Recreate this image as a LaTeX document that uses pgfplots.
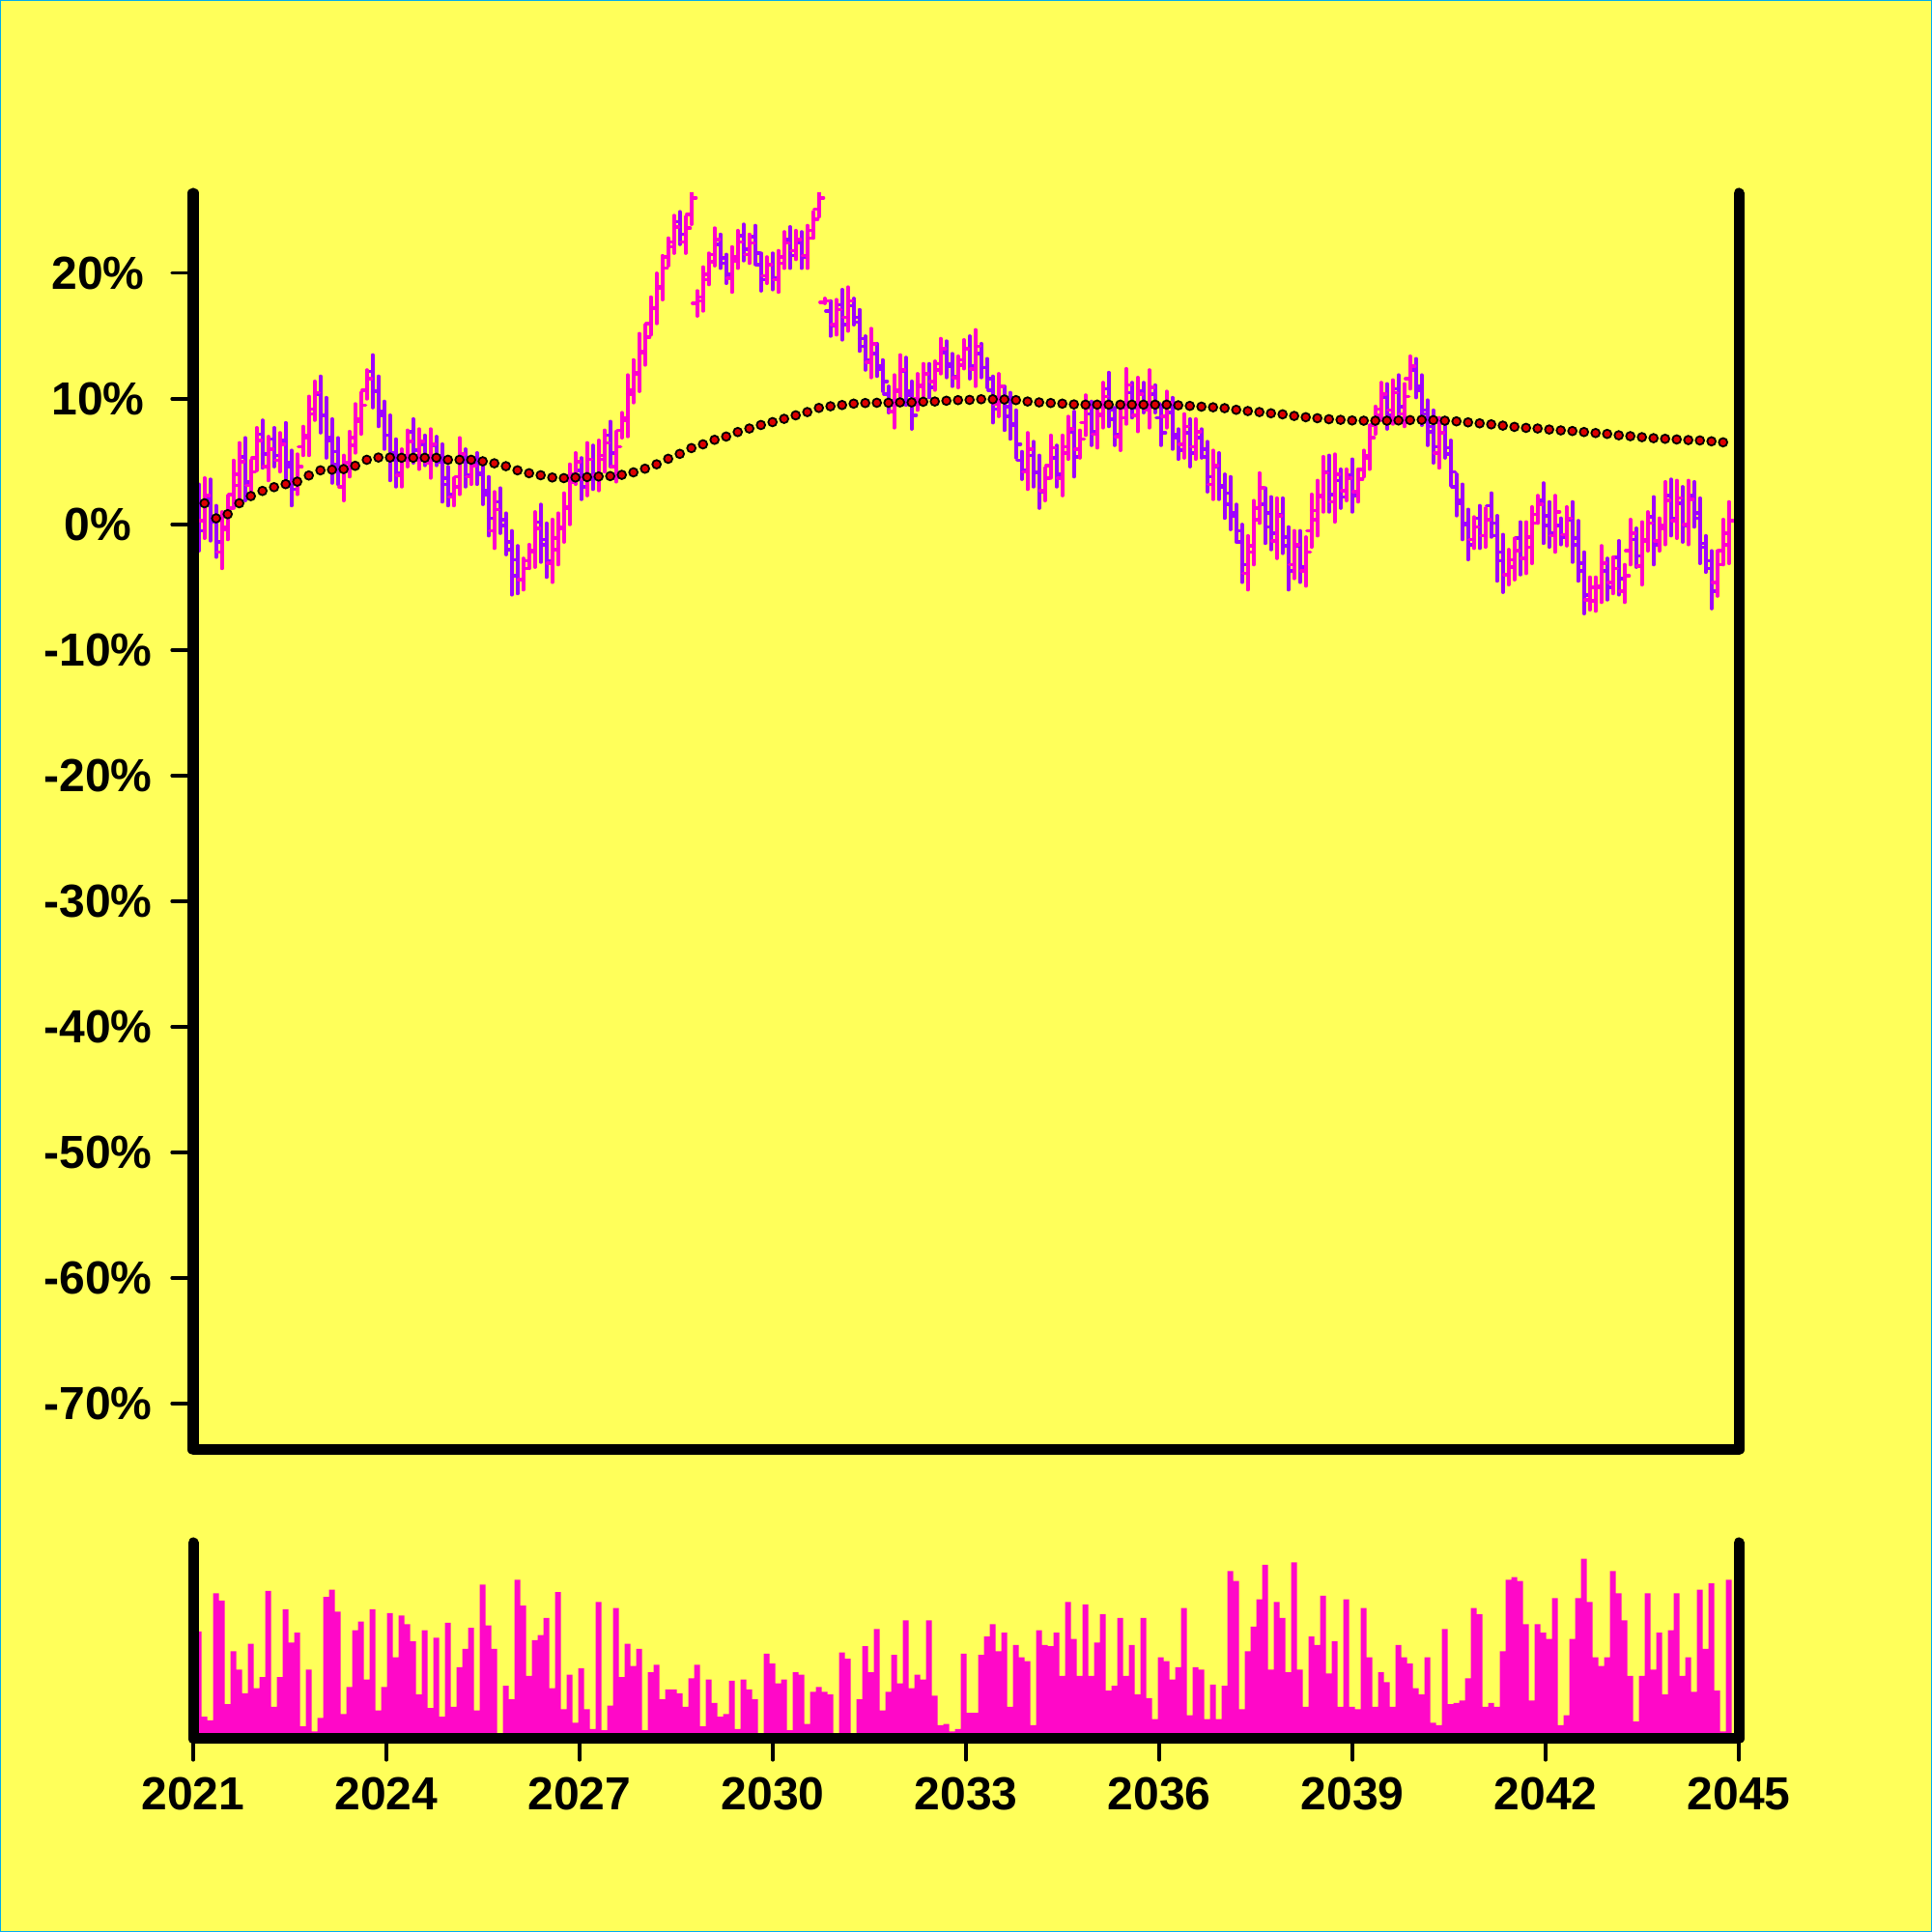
\documentclass[border=0pt]{standalone}
\usepackage{pgfplots}
\pgfplotsset{compat=1.18}
\usepackage{pgfplotstable}
\usepackage{fontspec}
\setmainfont{Liberation Sans}

\definecolor{bgy}{RGB}{255,255,90}
\definecolor{upc}{RGB}{255,0,204}
\definecolor{dnc}{RGB}{160,0,255}
\definecolor{mac}{RGB}{220,0,0}
\definecolor{volc}{RGB}{255,8,200}

% open tick to the left, close tick to the right
\pgfdeclareplotmark{otick}{\pgfpathmoveto{\pgfqpoint{-\pgfplotmarksize}{0pt}}\pgfpathlineto{\pgfqpoint{0pt}{0pt}}\pgfusepathqstroke}
\pgfdeclareplotmark{ctick}{\pgfpathmoveto{\pgfqpoint{0pt}{0pt}}\pgfpathlineto{\pgfqpoint{\pgfplotmarksize}{0pt}}\pgfusepathqstroke}

\pgfplotsset{
  hl/.style={draw=none, mark=none, forget plot,
    error bars/y dir=plus, error bars/y explicit, error bars/error mark=none,
    error bars/error bar style={draw=#1, solid, line width=0.9pt, line cap=round}},
  oc/.style={only marks, forget plot, color=#1, mark size=1.2pt,
    mark options={solid, line width=0.9pt, line cap=round}},
  lbl/.style={font=\bfseries\fontsize{12}{14}\selectfont, inner sep=0pt},
}

% rising bars: k open high low close (percent)
\pgfplotstableread{
k o h l c
1 0.3 3.7 -1.1 2.3
4 -2.2 1.0 -3.5 -0.4
5 -0.2 2.3 -1.2 1.3
6 2.4 5.1 1.3 4.0
7 3.1 6.5 1.6 5.0
9 3.1 5.1 2.2 4.2
10 5.3 7.7 4.3 6.7
12 4.6 7.0 3.5 6.0
14 5.1 7.3 4.2 6.4
17 3.4 5.6 2.4 4.6
18 6.2 7.8 5.5 7.1
19 6.9 10.2 5.5 8.8
20 9.2 11.4 8.3 10.5
25 3.0 5.5 1.9 4.4
26 4.9 7.4 3.8 6.3
27 6.9 9.6 5.7 8.4
28 8.2 10.5 7.2 9.5
29 10.7 12.3 10.0 11.6
35 3.9 6.0 3.0 5.1
36 5.5 7.5 4.6 6.6
38 5.4 7.6 4.4 6.6
40 4.9 7.6 3.7 6.4
44 2.2 3.7 1.5 3.0
45 3.8 6.9 2.4 5.6
47 3.8 5.3 3.2 4.7
51 -0.5 2.6 -1.9 1.2
56 -4.4 -2.7 -5.2 -3.5
57 -2.9 -1.6 -3.5 -2.2
58 -2.1 1.0 -3.4 -0.3
61 -3.1 0.4 -4.6 -1.1
62 -2.0 0.9 -3.2 -0.3
63 -0.2 2.5 -1.4 1.3
64 1.4 4.8 0.0 3.4
65 4.0 5.7 3.2 5.0
67 3.6 6.5 2.3 5.2
69 3.9 6.7 2.7 5.5
70 5.2 7.5 4.2 6.5
72 4.6 7.4 3.4 6.2
73 7.5 8.9 6.9 8.3
74 8.5 11.9 7.0 10.4
75 10.7 13.1 9.7 12.1
76 12.0 15.2 10.6 13.8
77 13.7 15.9 12.7 14.9
78 16.0 18.1 15.1 17.2
79 17.2 20.0 16.0 18.8
80 18.9 21.4 17.9 20.4
81 21.3 22.8 20.6 22.1
82 22.5 24.6 21.6 23.7
84 22.5 24.5 21.6 23.6
85 24.7 26.5 23.9 26.0
86 17.6 18.6 16.6 17.8
87 18.1 20.5 17.0 19.5
88 19.9 21.6 19.1 20.9
89 21.5 23.6 20.6 22.7
92 19.6 22.1 18.5 21.0
93 21.3 23.4 20.4 22.5
95 21.5 23.1 20.8 22.4
98 19.8 21.3 19.2 20.7
100 19.5 21.8 18.5 20.8
101 21.3 23.3 20.4 22.4
103 21.8 23.4 21.1 22.7
105 21.4 23.8 20.4 22.8
106 23.4 24.9 22.8 24.3
107 25.1 26.5 24.5 26.0
108 17.7 18.0 17.6 17.8
110 15.9 17.9 15.1 17.1
112 16.5 18.9 15.4 17.8
116 12.9 15.6 11.7 14.4
120 9.0 11.9 7.7 10.6
121 10.7 13.5 9.5 12.3
124 10.0 12.0 9.1 11.1
125 11.0 12.8 10.2 12.0
127 11.4 13.0 10.7 12.3
128 12.8 14.8 12.0 14.0
131 11.7 13.4 10.9 12.7
132 13.1 14.7 12.4 14.0
134 12.4 15.5 11.0 14.2
138 9.6 12.0 8.6 11.0
143 4.2 7.3 2.8 6.0
146 2.7 4.5 1.9 3.7
147 4.7 7.1 3.7 6.1
149 3.7 7.1 2.3 5.7
150 6.2 8.6 5.2 7.6
152 6.0 7.5 5.3 6.8
153 8.1 10.3 7.1 9.3
155 7.2 9.8 6.1 8.7
156 8.8 11.3 7.7 10.2
159 7.0 9.6 5.9 8.5
160 9.3 12.4 8.0 11.1
162 8.7 11.7 7.4 10.4
164 9.1 12.3 7.7 10.9
167 8.6 10.6 7.7 9.7
170 6.4 8.8 5.3 7.8
172 6.2 8.4 5.2 7.4
175 3.2 5.9 2.0 4.7
181 -3.9 -0.9 -5.2 -2.2
182 -1.7 1.9 -3.2 0.4
183 1.3 4.1 0.1 2.9
186 -1.3 2.1 -2.7 0.7
189 -3.2 -0.5 -4.3 -1.6
191 -3.7 -1.0 -4.9 -2.2
192 -0.5 2.4 -1.8 1.1
193 0.4 3.5 -0.9 2.2
194 2.3 5.4 1.0 4.1
196 1.8 5.6 0.2 4.0
198 2.7 4.4 1.9 3.7
200 2.6 4.4 1.8 3.6
201 4.4 5.9 3.8 5.3
202 5.5 7.9 4.4 6.9
203 7.9 9.4 7.2 8.7
204 9.2 11.3 8.3 10.4
206 9.1 11.5 8.0 10.5
208 8.8 11.2 7.8 10.2
209 11.6 13.4 10.8 12.6
214 5.7 8.5 4.5 7.3
220 -1.2 0.6 -1.9 -0.2
222 -0.9 1.3 -1.8 0.4
226 -4.0 -2.0 -4.8 -2.8
227 -3.4 -1.1 -4.4 -2.1
229 -2.7 0.2 -3.9 -1.0
230 -1.8 1.4 -3.1 0.1
231 0.8 2.3 0.1 1.6
234 -0.9 2.3 -2.2 1.0
236 -0.8 1.4 -1.7 0.5
240 -6.0 -4.2 -6.8 -5.0
241 -6.1 -4.2 -6.9 -5.0
242 -4.9 -1.7 -6.2 -3.1
244 -4.6 -2.6 -5.5 -3.5
246 -5.3 -3.2 -6.2 -4.1
247 -2.1 0.4 -3.2 -0.7
249 -3.3 0.2 -4.8 -1.3
250 -1.2 1.0 -2.1 0.1
252 -1.3 0.5 -2.1 -0.3
253 -0.1 3.4 -1.6 1.9
255 0.3 3.5 -1.1 2.1
257 0.0 3.5 -1.6 2.0
262 -4.6 -2.1 -5.7 -3.2
263 -2.1 0.4 -3.2 -0.7
264 -1.6 1.8 -3.1 0.3
}\up

% falling bars
\pgfplotstableread{
k o h l c
0 1.6 3.2 -2.1 -0.5
2 2.1 3.6 -1.3 0.2
3 0.3 1.5 -2.6 -1.4
8 5.4 6.9 1.9 3.4
11 7.2 8.3 4.5 5.6
13 6.8 7.7 4.6 5.5
15 6.7 8.1 3.5 4.9
16 4.6 5.9 1.5 2.8
21 10.4 11.8 7.3 8.7
22 8.7 10.1 5.3 6.7
23 6.9 8.4 3.3 4.8
24 5.8 6.9 3.2 4.3
30 12.2 13.5 9.3 10.6
31 10.6 11.8 7.8 9.0
32 8.7 9.8 6.0 7.1
33 7.1 8.7 3.5 5.1
34 5.7 6.8 3.0 4.1
37 7.4 8.4 4.9 5.9
39 6.4 7.1 4.7 5.4
41 6.3 7.0 4.7 5.4
42 5.0 6.4 1.8 3.2
43 3.7 4.6 1.5 2.4
46 5.1 6.0 3.0 3.9
48 5.0 5.7 3.2 4.0
49 4.1 5.1 1.6 2.7
50 2.4 3.8 -0.9 0.5
52 1.8 2.9 -0.7 0.4
53 -0.1 0.9 -2.4 -1.4
54 -2.0 -0.5 -5.6 -4.1
55 -2.8 -1.7 -5.5 -4.4
59 0.2 1.6 -3.0 -1.6
60 -1.2 0.1 -4.2 -2.9
66 4.3 5.3 2.0 3.0
68 5.2 6.3 2.8 3.9
71 7.1 8.2 4.6 5.7
83 24.1 24.9 22.3 23.1
90 22.3 23.1 20.4 21.2
91 20.8 21.5 19.2 19.9
94 23.0 23.9 21.0 21.9
96 22.9 23.8 20.7 21.6
97 20.7 21.6 18.6 19.5
99 20.7 21.6 18.7 19.6
102 22.7 23.7 20.4 21.4
104 22.4 23.3 20.4 21.3
109 17.0 17.8 15.0 15.8
111 17.5 18.7 14.7 15.9
113 17.4 18.0 15.9 16.5
114 16.1 17.1 13.8 14.8
115 14.2 15.0 12.3 13.1
117 13.6 14.4 11.8 12.6
118 12.4 13.1 10.6 11.4
119 10.4 11.0 8.9 9.5
122 12.2 13.3 9.5 10.6
123 10.3 11.4 7.6 8.7
126 12.0 12.8 10.1 10.9
129 13.7 14.6 11.7 12.6
130 12.8 13.6 11.0 11.8
133 14.0 15.0 11.6 12.6
135 13.6 14.4 11.7 12.5
136 12.5 13.2 10.9 11.6
137 10.7 11.8 8.1 9.2
139 10.0 11.0 7.5 8.6
140 9.4 10.5 6.8 7.9
141 8.0 9.1 5.3 6.4
142 5.1 5.8 3.6 4.3
144 5.5 6.6 3.0 4.1
145 4.2 5.5 1.3 2.6
148 5.3 6.3 3.0 4.0
151 7.4 9.0 3.8 5.4
154 8.8 9.8 6.3 7.4
157 10.8 12.1 7.8 9.1
158 8.4 9.3 6.3 7.2
161 10.5 11.3 8.5 9.3
163 10.6 11.3 8.9 9.6
165 10.4 11.1 8.9 9.6
166 8.5 9.5 6.3 7.3
168 8.9 10.1 6.0 7.2
169 6.9 7.6 5.2 5.9
171 7.3 8.4 4.6 5.7
173 6.9 7.6 5.3 6.0
174 5.4 6.6 2.6 3.8
176 4.6 5.7 2.0 3.1
177 3.0 4.0 0.5 1.6
178 2.5 3.8 -0.4 0.9
179 0.7 1.6 -1.4 -0.5
180 -1.4 0.0 -4.6 -3.2
184 1.6 2.9 -1.5 -0.2
185 0.9 2.2 -2.0 -0.7
187 0.8 2.1 -2.3 -1.0
188 -1.7 -0.2 -5.2 -3.7
190 -1.7 -0.5 -4.6 -3.4
195 4.2 5.5 1.0 2.4
197 3.5 4.4 1.3 2.2
199 3.9 5.2 1.0 2.3
205 10.1 11.2 7.6 8.7
207 10.8 11.9 8.3 9.4
210 12.3 13.2 10.1 11.0
211 10.7 11.9 7.9 9.1
212 8.8 9.9 6.3 7.4
213 7.8 9.1 4.9 6.2
215 7.3 8.1 5.3 6.1
216 5.6 6.7 3.1 4.2
217 3.0 4.0 0.7 1.7
218 1.9 3.2 -1.2 0.1
219 0.0 1.2 -2.8 -1.6
221 0.5 1.5 -1.9 -0.9
223 1.5 2.5 -1.0 0.1
224 -0.9 0.7 -4.5 -2.9
225 -2.2 -0.8 -5.4 -4.0
228 -1.1 0.2 -4.0 -2.7
232 1.9 3.3 -1.5 -0.1
233 0.7 1.8 -1.8 -0.7
235 -0.1 0.5 -1.6 -1.0
237 0.4 1.8 -3.0 -1.6
238 -1.1 0.3 -4.5 -3.1
239 -3.7 -2.2 -7.1 -5.6
243 -3.7 -2.7 -6.0 -5.0
245 -2.6 -1.3 -5.6 -4.3
248 -1.2 -0.3 -3.4 -2.5
251 0.6 2.2 -3.2 -1.6
254 2.3 3.6 -0.9 0.5
256 1.7 3.0 -1.4 -0.1
258 2.3 3.4 -0.2 0.9
259 0.5 2.1 -3.1 -1.5
260 -1.8 -0.9 -3.8 -2.9
261 -3.5 -2.1 -6.7 -5.3
}\dn

% moving average, every second bar
\pgfplotstableread[row sep=\\]{
k v\\
1 1.69\\ 3 0.49\\ 5 0.82\\ 7 1.69\\ 9 2.26\\ 11 2.67\\ 13 2.97\\ 15 3.21\\ 17 3.41\\ 19 3.90\\
21 4.31\\ 23 4.36\\ 25 4.41\\ 27 4.67\\ 29 5.15\\ 31 5.33\\ 33 5.33\\ 35 5.31\\ 37 5.31\\ 39 5.31\\
41 5.31\\ 43 5.15\\ 45 5.15\\ 47 5.15\\ 49 5.03\\ 51 4.87\\ 53 4.64\\ 55 4.31\\ 57 4.08\\ 59 3.92\\
61 3.74\\ 63 3.69\\ 65 3.74\\ 67 3.77\\ 69 3.82\\ 71 3.85\\ 73 3.95\\ 75 4.15\\ 77 4.44\\ 79 4.79\\
81 5.23\\ 83 5.62\\ 85 6.08\\ 87 6.38\\ 89 6.74\\ 91 7.00\\ 93 7.36\\ 95 7.64\\ 97 7.92\\ 99 8.15\\
101 8.41\\ 103 8.69\\ 105 8.95\\ 107 9.28\\ 109 9.41\\ 111 9.51\\ 113 9.62\\ 115 9.67\\ 117 9.69\\ 119 9.69\\
121 9.72\\ 123 9.72\\ 125 9.77\\ 127 9.79\\ 129 9.85\\ 131 9.90\\ 133 9.92\\ 135 9.97\\ 137 9.97\\ 139 9.95\\
141 9.90\\ 143 9.79\\ 145 9.72\\ 147 9.67\\ 149 9.62\\ 151 9.56\\ 153 9.54\\ 155 9.54\\ 157 9.54\\ 159 9.54\\
161 9.54\\ 163 9.54\\ 165 9.54\\ 167 9.54\\ 169 9.49\\ 171 9.44\\ 173 9.38\\ 175 9.33\\ 177 9.26\\ 179 9.13\\
181 9.03\\ 183 8.95\\ 185 8.85\\ 187 8.77\\ 189 8.64\\ 191 8.54\\ 193 8.46\\ 195 8.38\\ 197 8.33\\ 199 8.28\\
201 8.26\\ 203 8.26\\ 205 8.26\\ 207 8.28\\ 209 8.31\\ 211 8.33\\ 213 8.31\\ 215 8.26\\ 217 8.21\\ 219 8.13\\
221 8.05\\ 223 7.97\\ 225 7.87\\ 227 7.77\\ 229 7.69\\ 231 7.64\\ 233 7.56\\ 235 7.49\\ 237 7.44\\ 239 7.36\\
241 7.28\\ 243 7.21\\ 245 7.10\\ 247 7.03\\ 249 6.95\\ 251 6.87\\ 253 6.82\\ 255 6.77\\ 257 6.72\\ 259 6.69\\
261 6.62\\ 263 6.54\\
}\ma

% volume, one value per bar
\pgfplotstableread[row sep=\\]{
k v\\
0 87\\ 1 18\\ 2 15\\ 3 118\\ 4 112\\ 5 28\\ 6 71\\ 7 56\\ 8 37\\ 9 77\\
10 41\\ 11 50\\ 12 120\\ 13 26\\ 14 50\\ 15 105\\ 16 78\\ 17 86\\ 18 10\\ 19 56\\
20 6\\ 21 17\\ 22 115\\ 23 121\\ 24 103\\ 25 20\\ 26 42\\ 27 88\\ 28 95\\ 29 48\\
30 105\\ 31 23\\ 32 42\\ 33 102\\ 34 66\\ 35 100\\ 36 93\\ 37 79\\ 38 36\\ 39 88\\
40 25\\ 41 82\\ 42 18\\ 43 94\\ 44 26\\ 45 58\\ 46 73\\ 47 90\\ 48 23\\ 49 125\\
50 92\\ 51 73\\ 52 0\\ 53 43\\ 54 32\\ 55 129\\ 56 108\\ 57 51\\ 58 80\\ 59 84\\
60 98\\ 61 41\\ 62 119\\ 63 24\\ 64 52\\ 65 13\\ 66 57\\ 67 24\\ 68 8\\ 69 111\\
70 7\\ 71 27\\ 72 106\\ 73 50\\ 74 77\\ 75 59\\ 76 73\\ 77 7\\ 78 54\\ 79 60\\
80 32\\ 81 40\\ 82 40\\ 83 37\\ 84 26\\ 85 49\\ 86 60\\ 87 10\\ 88 48\\ 89 29\\
90 18\\ 91 20\\ 92 47\\ 93 8\\ 94 48\\ 95 40\\ 96 32\\ 97 0\\ 98 69\\ 99 61\\
100 45\\ 101 48\\ 102 7\\ 103 54\\ 104 52\\ 105 12\\ 106 38\\ 107 42\\ 108 38\\ 109 36\\
110 0\\ 111 70\\ 112 65\\ 113 0\\ 114 32\\ 115 75\\ 116 54\\ 117 89\\ 118 23\\ 119 38\\
120 68\\ 121 45\\ 122 96\\ 123 41\\ 124 52\\ 125 48\\ 126 96\\ 127 35\\ 128 11\\ 129 12\\
130 6\\ 131 8\\ 132 69\\ 133 21\\ 134 21\\ 135 68\\ 136 83\\ 137 93\\ 138 71\\ 139 86\\
140 26\\ 141 76\\ 142 66\\ 143 63\\ 144 11\\ 145 88\\ 146 76\\ 147 75\\ 148 86\\ 149 51\\
150 111\\ 151 81\\ 152 51\\ 153 109\\ 154 51\\ 155 78\\ 156 101\\ 157 39\\ 158 43\\ 159 98\\
160 51\\ 161 76\\ 162 36\\ 163 98\\ 164 33\\ 165 16\\ 166 66\\ 167 63\\ 168 48\\ 169 58\\
170 106\\ 171 19\\ 172 58\\ 173 56\\ 174 16\\ 175 44\\ 176 16\\ 177 43\\ 178 136\\ 179 128\\
180 24\\ 181 71\\ 182 91\\ 183 113\\ 184 141\\ 185 56\\ 186 111\\ 187 98\\ 188 54\\ 189 143\\
190 56\\ 191 26\\ 192 83\\ 193 76\\ 194 116\\ 195 53\\ 196 79\\ 197 26\\ 198 113\\ 199 26\\
200 24\\ 201 106\\ 202 66\\ 203 26\\ 204 54\\ 205 46\\ 206 26\\ 207 76\\ 208 66\\ 209 61\\
210 41\\ 211 36\\ 212 66\\ 213 13\\ 214 11\\ 215 89\\ 216 28\\ 217 29\\ 218 31\\ 219 49\\
220 106\\ 221 101\\ 222 26\\ 223 29\\ 224 26\\ 225 71\\ 226 129\\ 227 131\\ 228 128\\ 229 93\\
230 31\\ 231 93\\ 232 86\\ 233 81\\ 234 114\\ 235 11\\ 236 19\\ 237 81\\ 238 114\\ 239 146\\
240 111\\ 241 66\\ 242 59\\ 243 66\\ 244 136\\ 245 118\\ 246 96\\ 247 51\\ 248 14\\ 249 51\\
250 118\\ 251 56\\ 252 86\\ 253 36\\ 254 88\\ 255 118\\ 256 51\\ 257 66\\ 258 38\\ 259 121\\
260 73\\ 261 126\\ 262 39\\ 263 6\\ 264 129\\
}\vol

\begin{document}
\begin{tikzpicture}
\fill[bgy] (0pt,0pt) rectangle (500pt,500pt);
\draw[cyan, line width=0.35pt] (0.175pt,0.175pt) rectangle (499.825pt,499.825pt);

\begin{axis}[
  at={(50pt,124.75pt)}, anchor=south west, scale only axis,
  width=400pt, height=325.25pt,
  xmin=-0.95, xmax=265.717, ymin=-73.69, ymax=26.38,
  clip mode=individual,
  axis line style={draw=none},
  xtick=\empty,
  ytick={-70,-60,-50,-40,-30,-20,-10,0,10,20},
  yticklabels={-70\%,-60\%,-50\%,-40\%,-30\%,-20\%,-10\%,0\%,10\%,20\%},
  ytick pos=left, tick align=outside, major tick length=5.5pt,
  tick style={black, line width=0.8pt, line cap=round},
  yticklabel style={lbl, anchor=center, xshift=-19.1pt},
]
\addplot [hl=dnc] table [x=k, y=l, y error plus expr=\thisrow{h}-\thisrow{l}] {\dn};
\addplot [oc=dnc, mark=otick] table [x=k, y=o] {\dn};
\addplot [oc=dnc, mark=ctick] table [x=k, y=c] {\dn};
\addplot [hl=upc] table [x=k, y=l, y error plus expr=\thisrow{h}-\thisrow{l}] {\up};
\addplot [oc=upc, mark=otick] table [x=k, y=o] {\up};
\addplot [oc=upc, mark=ctick] table [x=k, y=c] {\up};
\addplot [only marks, mark=*, mark size=1.1pt,
  mark options={fill=mac, draw=black, line width=0.45pt}] table [x=k, y=v] {\ma};
\draw[line width=2.75pt, line cap=round, line join=round]
  (rel axis cs:0,1) -- (rel axis cs:0,0) -- (rel axis cs:1,0) -- (rel axis cs:1,1);
\end{axis}

\begin{axis}[
  at={(50pt,50pt)}, anchor=south west, scale only axis,
  width=400pt, height=50.75pt,
  xmin=-0.95, xmax=265.717, ymin=0, ymax=159,
  clip mode=individual,
  axis line style={draw=none},
  ytick=\empty,
  xtick={-0.95,32.383,65.717,99.05,132.383,165.717,199.05,232.383,265.717},
  xticklabels={2021,2024,2027,2030,2033,2036,2039,2042,2045},
  xtick pos=left, tick align=outside, major tick length=5.5pt,
  tick style={black, line width=0.8pt, line cap=round},
  xticklabel style={lbl, anchor=north, yshift=-4.25pt},
]
\addplot [ybar, bar width=1, fill=volc, draw=none] table [x=k, y=v] {\vol};
\draw[line width=2.75pt, line cap=round, line join=round]
  (rel axis cs:0,1) -- (rel axis cs:0,0) -- (rel axis cs:1,0) -- (rel axis cs:1,1);
\end{axis}

\pgfresetboundingbox
\useasboundingbox (0pt,0pt) rectangle (500pt,500pt);
\end{tikzpicture}
\end{document}
